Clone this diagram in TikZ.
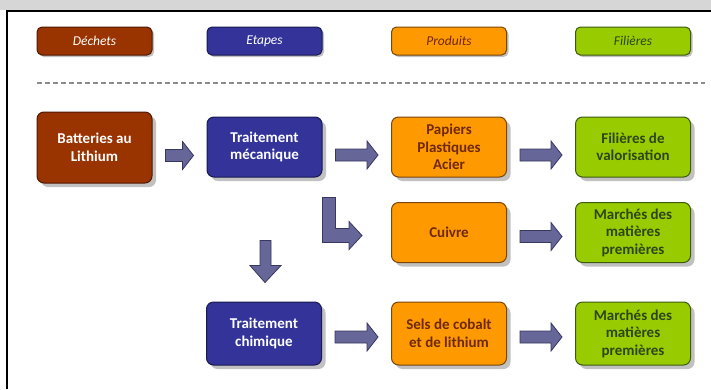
\documentclass[tikz,border=0pt]{standalone}
\usepackage{fontspec}
\setmainfont{Carlito}
\usetikzlibrary{shadows,calc}

\definecolor{cDechet}{RGB}{153,51,0}
\definecolor{cDechetB}{RGB}{80,25,0}
\definecolor{cEtape}{RGB}{51,51,153}
\definecolor{cEtapeB}{RGB}{25,25,80}
\definecolor{cProduit}{RGB}{255,153,0}
\definecolor{cProduitB}{RGB}{120,70,10}
\definecolor{cProduitT}{RGB}{110,40,10}
\definecolor{cFiliere}{RGB}{153,204,0}
\definecolor{cFiliereB}{RGB}{60,90,15}
\definecolor{cFiliereT}{RGB}{45,70,25}
\definecolor{cFleche}{RGB}{102,102,153}
\definecolor{cFlecheB}{RGB}{55,55,95}

\tikzset{
  boite/.style={rounded corners=7pt, line width=1pt, align=center, inner sep=0pt,
    minimum width=115pt, minimum height=60pt,
    font=\bfseries\fontsize{15}{17.5}\selectfont,
    drop shadow={shadow xshift=4pt, shadow yshift=-4pt, fill=black!30, opacity=.8}},
  legende/.style={rounded corners=5pt, line width=1pt, inner sep=0pt,
    minimum width=115pt, minimum height=28pt,
    font=\itshape\fontsize{13.5}{16}\selectfont,
    drop shadow={shadow xshift=2pt, shadow yshift=-2pt, fill=black!30, opacity=.8}},
  dechet/.style={fill=cDechet, draw=cDechetB, text=white},
  etape/.style={fill=cEtape, draw=cEtapeB, text=white},
  produit/.style={fill=cProduit, draw=cProduitB, text=cProduitT},
  filiere/.style={fill=cFiliere, draw=cFiliereB, text=cFiliereT},
  fleche/.style={fill=cFleche, draw=cFlecheB, line width=0.8pt, line join=miter},
}

% fleche horizontale entre deux boites : depart, arrivee, decalage vers le bas
\newcommand{\flecheH}[3]{%
  \draw[fleche] let \p1=($(#1.east)+(13,#3)$), \p2=($(#2.west)+(-13,#3)$) in
    (\x1,\y1+6pt) -- (\x2-11pt,\y1+6pt) -- (\x2-11pt,\y1+14pt) -- (\x2,\y1)
    -- (\x2-11pt,\y1-14pt) -- (\x2-11pt,\y1-6pt) -- (\x1,\y1-6pt) -- cycle;}

\begin{document}
\begin{tikzpicture}[x=1pt, y=-1pt]
    \useasboundingbox (0,0) rectangle (711,389);
    \fill[white] (0,0) rectangle (711,389);
    \fill[black!16] (0,0) rectangle (711,10);
    \draw[line width=2pt] (7,389) -- (7,11) -- (711,11);

    % legende
    \foreach \x/\nom/\sty/\txt in {94.5/legD/dechet/Déchets, 264.5/legE/etape/Etapes,
                                  449/legP/produit/Produits, 633/legF/filiere/Filières}
      \node[legende, \sty] (\nom) at (\x,41) {\txt};
    \draw[black!45, line width=1.8pt, dash pattern=on 5pt off 3pt] (37,83) -- (705,83);

    % boites
    \node[boite, dechet, minimum height=71pt] (bat) at (94.5,147.5) {Batteries au\\Lithium};
    \node[boite, etape] (meca) at (264.5,147) {Traitement\\mécanique};
    \node[boite, produit] (pap) at (449,147) {Papiers\\Plastiques\\Acier};
    \node[boite, filiere] (valo) at (633,147) {Filières de\\valorisation};
    \node[boite, produit] (cuivre) at (449,232.5) {Cuivre};
    \node[boite, filiere] (marche1) at (633,232.5) {Marchés des\\matières\\premières};
    \node[boite, etape, minimum height=63pt] (chim) at (264,333.5) {Traitement\\chimique};
    \node[boite, produit, minimum height=63pt] (sels) at (449,333.5) {Sels de cobalt\\et de lithium};
    \node[boite, filiere, minimum height=63pt] (marche2) at (633,333.5) {Marchés des\\matières\\premières};

    % fleches
    \flecheH{bat}{meca}{8}
    \flecheH{meca}{pap}{8}
    \flecheH{pap}{valo}{8}
    \flecheH{cuivre}{marche1}{4}
    \flecheH{chim}{sels}{3.5}
    \flecheH{sels}{marche2}{3.5}

    \draw[fleche] let \p1=($(meca.south)+(1,63)$), \p2=($(chim.north)+(1,-19)$) in
      (\x1-5.5pt,\y1) -- (\x1-5.5pt,\y2+17pt) -- (\x1-15.5pt,\y2+17pt) -- (\x2,\y2)
      -- (\x1+15.5pt,\y2+17pt) -- (\x1+5.5pt,\y2+17pt) -- (\x1+5.5pt,\y1) -- cycle;

    \draw[fleche] let \p1=($(meca.south east)+(0,20)$), \p2=($(cuivre.west)+(-29,3)$) in
      (\x1,\y1) -- (\x1+13pt,\y1) -- (\x1+13pt,\y2+7pt) -- (\x2-13pt,\y2+7pt)
      -- (\x2-13pt,\y2+14pt) -- (\x2,\y2) -- (\x2-13pt,\y2-14pt) -- (\x2-13pt,\y2-7pt)
      -- (\x1,\y2-7pt) -- cycle;
\end{tikzpicture}
\end{document}
